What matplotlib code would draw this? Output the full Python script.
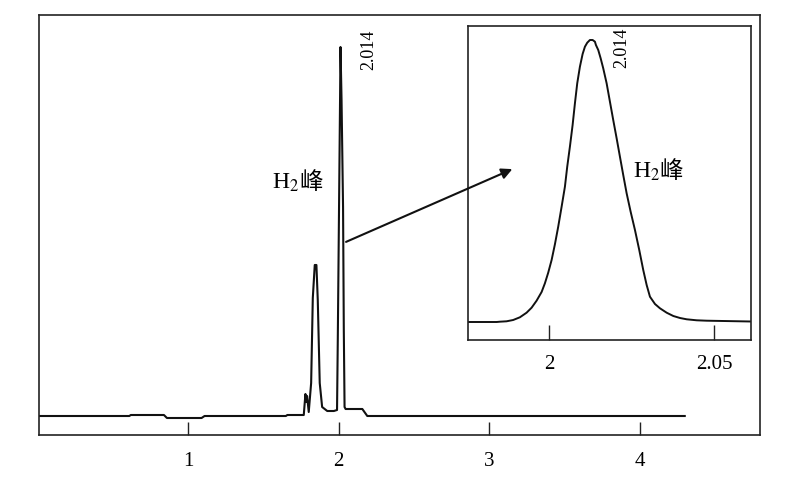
import matplotlib
matplotlib.use("Agg")
import matplotlib.pyplot as plt

plt.rcParams['font.family'] = ['Liberation Serif', 'Noto Sans CJK SC']
plt.rcParams['mathtext.fontset'] = 'stix'

# chromatogram (main view), signal
main_x = [0.00, 0.61, 0.62, 0.84, 0.86, 1.09, 1.11, 1.65, 1.66, 1.769,
          1.780, 1.786, 1.791, 1.802, 1.818, 1.829, 1.842, 1.853, 1.862,
          1.875, 1.891, 1.925, 1.969, 1.990, 1.995, 2.010, 2.013, 2.020,
          2.030, 2.035, 2.040, 2.047, 2.158, 2.191, 4.30]
main_y = [0, 0, 1, 1, -2, -2, 0, 0, 1, 1,
          22, 14, 20, 4, 33, 118, 151, 151, 116,
          33, 9, 5, 5, 6, 76, 316, 369, 316,
          209, 86, 9, 7, 7, 0, 0]

# zoomed H2 peak (inset)
zoom_x = [1.9755, 1.9842, 1.98515, 1.98718, 1.98918, 1.99121, 1.99324,
          1.99476, 1.99627, 1.99779, 1.99879, 1.99979, 2.00082, 2.00182,
          2.00282, 2.00385, 2.00485, 2.00555, 2.00636, 2.00718, 2.00788,
          2.00858, 2.00939, 2.01021, 2.01091, 2.01161, 2.01242, 2.01324,
          2.01394, 2.01424, 2.01494, 2.01567, 2.01645, 2.01748, 2.01848,
          2.01948, 2.02051, 2.02151, 2.02251, 2.02354, 2.02475, 2.02606,
          2.02736, 2.02857, 2.02960, 2.03060, 2.03212, 2.03363, 2.03566,
          2.03767, 2.03970, 2.04172, 2.04475, 2.04778, 2.0612]
zoom_y = [0, 0, 0.3, 0.7, 2, 4.7, 9.3,
          14.3, 21.3, 30, 38.7, 49.3, 62, 77.7,
          95.3, 115.3, 135.3, 155.3, 175.3, 197, 218.7,
          238.7, 255.3, 268, 275.3, 279.3, 282, 282,
          280.3, 277, 272, 263.7, 253.7, 238.7, 220.3,
          202, 183.7, 165.3, 147, 128.7, 110.3, 92,
          72, 52, 37, 25.3, 18, 13.7, 9.3,
          6, 4, 2.7, 1.7, 1.3, 0.5]

main_ticks = [1, 2, 3, 4]
zoom_ticks = [2, 2.05]
zoom_tick_labels = ['2', '2.05']
peak_label = '2.014'


def h2_label(axis, x, y):
    # "H2" with a real subscript, then the CJK character right after it
    axis.text(x, y, 'H$_2$', ha='right', va='baseline', fontsize=17)
    axis.text(x, y, '峰', ha='left', va='baseline', fontsize=17,
              family=['Noto Sans CJK SC'])


fig = plt.figure(figsize=(8, 4.8), dpi=100)

ax = fig.add_axes([0.04875, 0.09375, 0.90125, 0.875])
ax.plot(main_x, main_y, color='#111111', lw=1.5)
ax.set_xlim(0.01, 4.80)
ax.set_ylim(-19, 401)
ax.set_yticks([])
ax.set_xticks(main_ticks)
ax.set_xticklabels([str(t) for t in main_ticks])
ax.tick_params(axis='x', direction='in', length=9.5, width=1, pad=12,
               labelsize=15, color='#222222')
for s in ax.spines.values():
    s.set_linewidth(1.2)
    s.set_color('#222222')
ax.text(2.2, 366, peak_label, rotation=90, ha='center', va='center', fontsize=13)
h2_label(ax, 1.74, 227)

# inset
ax_in = fig.add_axes([0.585, 0.29167, 0.35375, 0.65417])
ax_in.plot(zoom_x, zoom_y, color='#111111', lw=1.4)
ax_in.set_xlim(1.9755, 2.0612)
ax_in.set_ylim(-18, 296)
ax_in.set_yticks([])
ax_in.set_xticks(zoom_ticks)
ax_in.set_xticklabels(zoom_tick_labels)
ax_in.tick_params(axis='x', direction='in', length=11, width=1, pad=11,
                  labelsize=15, color='#222222')
for s in ax_in.spines.values():
    s.set_linewidth(1.2)
    s.set_color('#222222')
ax_in.text(2.0221, 274, peak_label, rotation=90, ha='center', va='center', fontsize=13)
h2_label(ax_in, 2.0336, 144)

# arrow from the main peak into the inset
ax_in.annotate('', xy=(1.9897, 154), xycoords='data',
               xytext=(2.033, 173), textcoords=ax.transData,
               arrowprops=dict(arrowstyle='-|>', color='#111111', lw=1.5,
                               mutation_scale=16),
               annotation_clip=False)

fig.savefig('out.png', dpi=100)
